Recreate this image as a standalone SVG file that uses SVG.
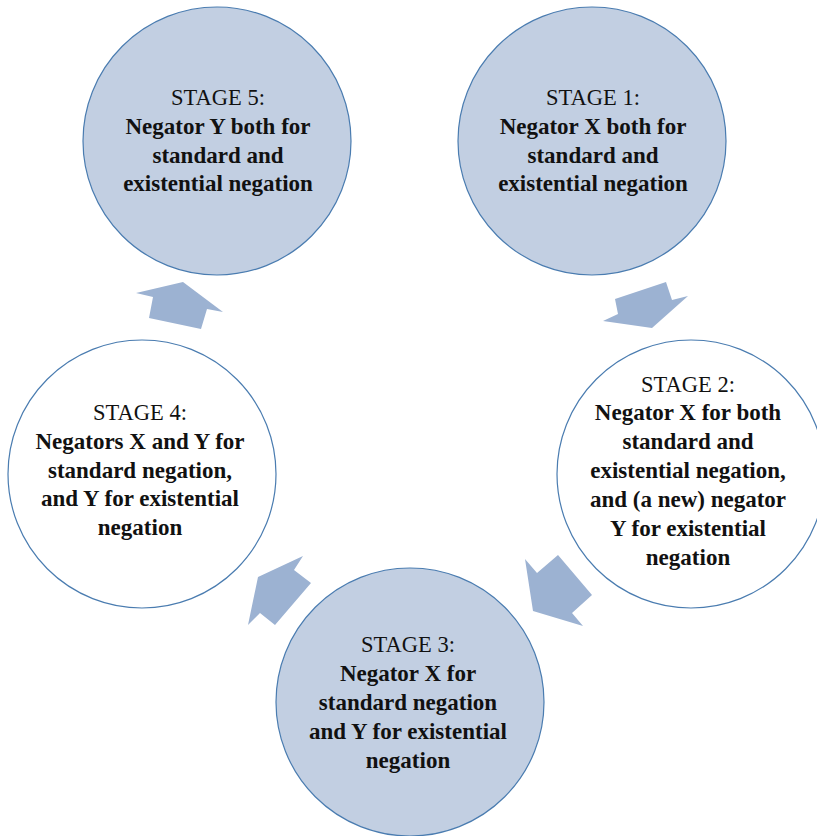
<svg xmlns="http://www.w3.org/2000/svg" width="817" height="836" viewBox="0 0 817 836">
<style>
.c{stroke:#4a7cb0;stroke-width:1.2}
.f{fill:#c2cfe2}
.w{fill:#ffffff}
.a{fill:#9cb2d2}
text{font-family:"Liberation Serif","Times New Roman",serif;font-size:22.5px;fill:#111;text-anchor:middle}
.b{font-weight:bold;font-size:23px}
</style>
<rect width="817" height="836" fill="#ffffff"/>
<g id="connectors">
<polygon class="a" points="136,293 183,282 223,312 207,309 201,329 149,318 153,297"/>
<polygon class="a" points="615,299 666,282 672,300 688,296 652,328 603,321 618,314"/>
<polygon class="a" points="525,559 537,573 558,555 592,595 572,613 583,626 533,611"/>
<polygon class="a" points="303,556 294,570 311,583 275,625 260,613 248,625 258,577"/>
</g>
<g id="stage5">
<circle class="c f" cx="217" cy="141" r="134"/>
<text x="218" y="105">STAGE 5:</text>
<text class="b" x="218" y="134">Negator Y both for</text>
<text class="b" x="218" y="163">standard and</text>
<text class="b" x="218" y="191">existential negation</text>
</g>
<g id="stage1">
<circle class="c f" cx="592" cy="141" r="134"/>
<text x="593" y="105">STAGE 1:</text>
<text class="b" x="593" y="134">Negator X both for</text>
<text class="b" x="593" y="163">standard and</text>
<text class="b" x="593" y="191">existential negation</text>
</g>
<g id="stage2">
<circle class="c w" cx="691" cy="474" r="134"/>
<text x="688" y="392">STAGE 2:</text>
<text class="b" x="688" y="420">Negator X for both</text>
<text class="b" x="688" y="449">standard and</text>
<text class="b" x="688" y="478">existential negation,</text>
<text class="b" x="688" y="507">and (a new) negator</text>
<text class="b" x="688" y="536">Y for existential</text>
<text class="b" x="688" y="565">negation</text>
</g>
<g id="stage3">
<circle class="c f" cx="410" cy="702" r="134"/>
<text x="408" y="652">STAGE 3:</text>
<text class="b" x="408" y="681">Negator X for</text>
<text class="b" x="408" y="710">standard negation</text>
<text class="b" x="408" y="739">and Y for existential</text>
<text class="b" x="408" y="768">negation</text>
</g>
<g id="stage4">
<circle class="c w" cx="142" cy="474" r="134"/>
<text x="140" y="420">STAGE 4:</text>
<text class="b" x="140" y="449">Negators X and Y for</text>
<text class="b" x="140" y="478">standard negation,</text>
<text class="b" x="140" y="506">and Y for existential</text>
<text class="b" x="140" y="535">negation</text>
</g>
</svg>
